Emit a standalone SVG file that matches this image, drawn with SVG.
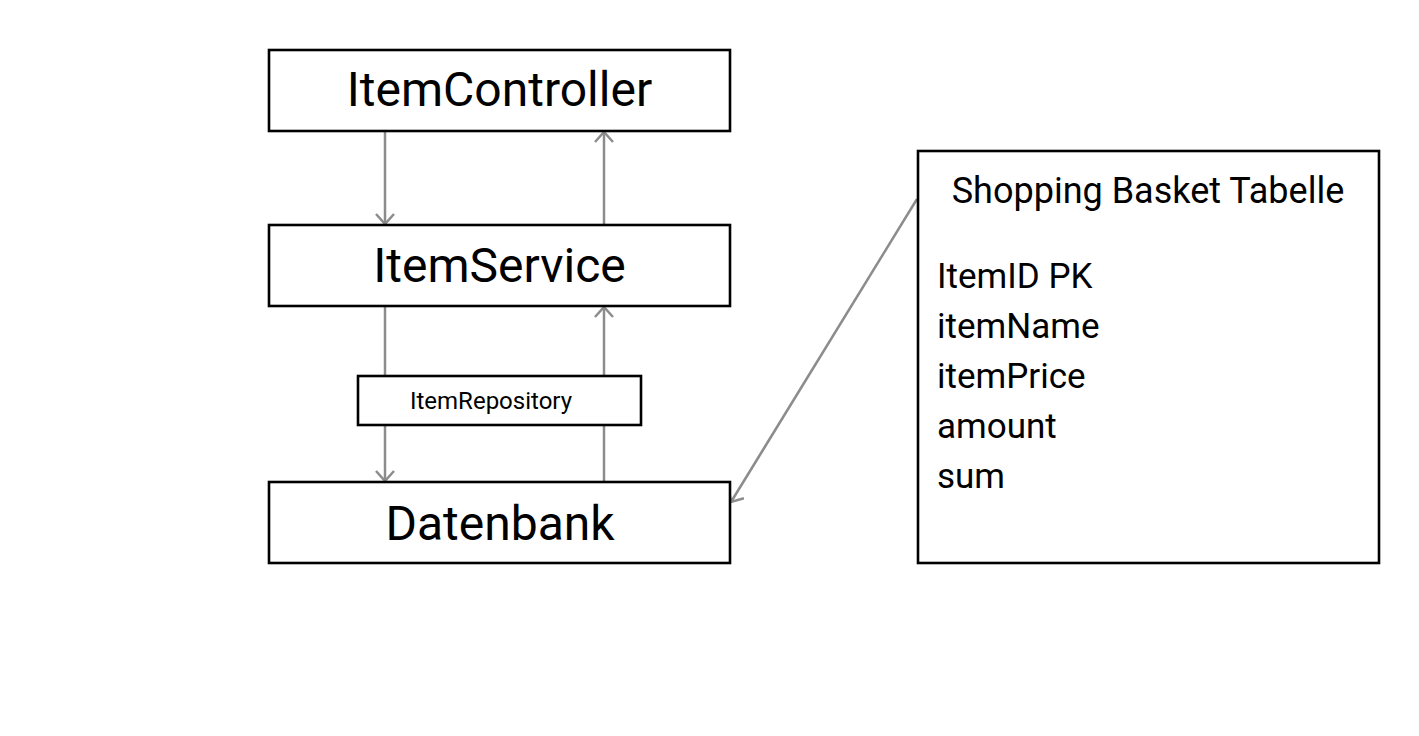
<svg xmlns="http://www.w3.org/2000/svg" width="1419" height="736" viewBox="0 0 1419 736">
<defs>
<style>
.box{fill:#fff;stroke:#000;stroke-width:2.6}
.t{font-family:Roboto,"Liberation Sans",sans-serif;fill:#000}
.c{stroke:#8c8c8c;stroke-width:2.5;fill:none}
</style>
<marker id="ah" viewBox="0 0 12 20" refX="11" refY="10" markerWidth="12" markerHeight="20" markerUnits="userSpaceOnUse" orient="auto">
<path d="M1,1 L11,10 L1,19" fill="none" stroke="#8c8c8c" stroke-width="2.5"/>
</marker>
</defs>
<rect width="1419" height="736" fill="#fff"/>
<g id="connectors">
<line class="c" x1="385" y1="132" x2="385" y2="224" marker-end="url(#ah)"/>
<line class="c" x1="604" y1="224" x2="604" y2="132" marker-end="url(#ah)"/>
<line class="c" x1="385" y1="307" x2="385" y2="376"/>
<line class="c" x1="385" y1="426" x2="385" y2="481" marker-end="url(#ah)"/>
<line class="c" x1="604" y1="481" x2="604" y2="426"/>
<line class="c" x1="604" y1="376" x2="604" y2="307" marker-end="url(#ah)"/>
<line class="c" x1="917" y1="199" x2="731" y2="502" marker-end="url(#ah)"/>
</g>
<g id="itemController">
<rect class="box" x="269" y="50" width="461" height="81"/>
<text class="t" x="499.5" y="106" font-size="48" text-anchor="middle">ItemController</text>
</g>
<g id="itemService">
<rect class="box" x="269" y="225" width="461" height="81"/>
<text class="t" x="499.5" y="282" font-size="48" text-anchor="middle">ItemService</text>
</g>
<g id="itemRepository">
<rect class="box" x="358" y="376" width="283" height="49"/>
<text class="t" x="491" y="409" font-size="24" text-anchor="middle">ItemRepository</text>
</g>
<g id="datenbank">
<rect class="box" x="269" y="482" width="461" height="81"/>
<text class="t" x="500" y="540" font-size="48" text-anchor="middle">Datenbank</text>
</g>
<g id="shoppingBasket">
<rect class="box" x="918" y="151" width="461" height="412"/>
<text class="t" x="1148" y="203" font-size="36" text-anchor="middle">Shopping Basket Tabelle</text>
<text class="t" x="937" y="288" font-size="35">ItemID PK</text>
<text class="t" x="937" y="338" font-size="35">itemName</text>
<text class="t" x="937" y="388" font-size="35">itemPrice</text>
<text class="t" x="937" y="438" font-size="35">amount</text>
<text class="t" x="937" y="488" font-size="35">sum</text>
</g>
</svg>
